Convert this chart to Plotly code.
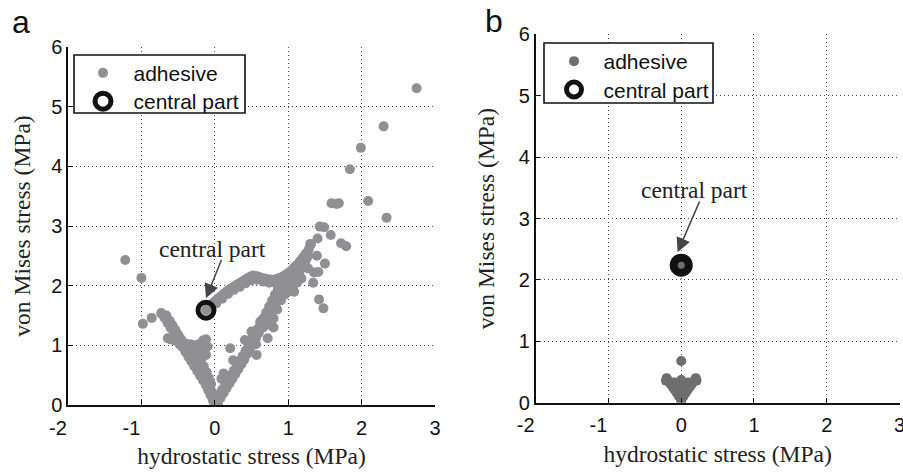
import plotly.graph_objects as go

W, H = 903, 473


def px_x(p):
    return p / W


def px_y(p):
    return 1 - p / H


# ---------------- Panel a data (hydrostatic vs von Mises stress, MPa) ----------------
out_a_x = [2.75, 2.30, 1.99, 1.84, 2.09, 2.34, 1.59, 1.69, 1.66, 1.43, 1.49, 1.58, 1.72, 1.79,
           1.40, 1.30, 1.39, 1.50, 1.34, 1.42, 1.48, -1.22, -1.00, -0.98, -0.86, -0.73, -0.64]
out_a_y = [5.31, 4.67, 4.31, 3.95, 3.42, 3.14, 3.38, 3.38, 3.37, 2.99, 2.98, 2.85, 2.71, 2.66,
           2.79, 2.70, 2.50, 2.37, 2.05, 1.77, 1.62, 2.43, 2.13, 1.36, 1.46, 1.54, 1.12]
up_a_x = [-0.12, -0.08, -0.04, 0.00, 0.04, 0.08, 0.12, 0.16, 0.20, 0.24, 0.28, 0.32, 0.36, 0.40,
          0.44, 0.48, 0.52, 0.56, 0.60, 0.64, 0.68, 0.72, 0.76, 0.80, 0.84, 0.88, 0.92, 0.96,
          1.00, 1.04, 1.08, 1.12, 1.16, 1.20, 1.24, 1.28, 1.31,
          0.02, 0.10, 0.18, 0.26, 0.34, 0.42, 0.50, 0.58, 0.66, 0.74, 0.82, 0.90, 0.98, 1.06,
          1.14, 1.22, 1.27]
up_a_y = [1.59, 1.64, 1.69, 1.74, 1.78, 1.82, 1.86, 1.90, 1.94, 1.97, 2.00, 2.03, 2.06, 2.09,
          2.12, 2.15, 2.17, 2.16, 2.15, 2.13, 2.12, 2.11, 2.10, 2.10, 2.11, 2.13, 2.15, 2.18,
          2.21, 2.25, 2.30, 2.35, 2.41, 2.47, 2.54, 2.61, 2.69,
          1.70, 1.78, 1.86, 1.93, 1.98, 2.04, 2.09, 2.10, 2.07, 2.05, 2.05, 2.07, 2.10, 2.18,
          2.28, 2.40, 2.50]
ra_a_x = [0.04, 0.08, 0.12, 0.16, 0.20, 0.24, 0.28, 0.32, 0.36, 0.40, 0.44, 0.48, 0.52, 0.56,
          0.60, 0.64, 0.68, 0.72, 0.76, 0.80, 0.84, 0.88, 0.92, 0.96,
          0.02, 0.06, 0.10, 0.14, 0.18, 0.22, 0.26, 0.30, 0.34, 0.38, 0.42, 0.46, 0.50, 0.54,
          0.58, 0.62, 0.66, 0.70, 0.74, 0.78, 0.82, 0.86,
          0.12, 0.09, 0.21, 0.25, 0.41, 0.50, 0.62, 0.57, 0.72, 0.66, 0.74, 0.80, 0.85, 0.90,
          0.95, 1.02, 1.05, 1.10, 1.15, 1.20, 1.25, 1.12, 1.08, 0.80, 0.56, 0.98, 1.35, 1.27,
          1.23, 0.89, 0.84, 0.79, 1.41, 1.18, 1.06, 0.94, 1.00]
ra_a_y = [0.04, 0.12, 0.20, 0.28, 0.36, 0.44, 0.52, 0.60, 0.68, 0.76, 0.85, 0.94, 1.03, 1.12,
          1.21, 1.30, 1.39, 1.48, 1.58, 1.68, 1.78, 1.88, 1.97, 2.04,
          0.10, 0.18, 0.26, 0.34, 0.42, 0.50, 0.58, 0.66, 0.74, 0.82, 0.91, 1.00, 1.09, 1.18,
          1.27, 1.36, 1.45, 1.55, 1.65, 1.75, 1.85, 1.95,
          0.53, 0.44, 0.95, 0.75, 1.09, 1.23, 1.40, 0.84, 1.12, 1.30, 1.35, 1.45, 1.60, 1.75,
          1.85, 1.95, 2.05, 2.15, 2.20, 2.30, 2.45, 2.05, 1.90, 1.30, 1.02, 1.88, 2.22, 2.29,
          2.38, 2.04, 1.81, 1.65, 2.23, 2.12, 2.00, 1.98, 2.08]
la_a_x = [-0.72, -0.68, -0.64, -0.60, -0.56, -0.52, -0.48, -0.44, -0.40, -0.36, -0.32, -0.28,
          -0.24, -0.20, -0.16, -0.12, -0.09, -0.06, -0.03, 0.00, 0.03,
          -0.66, -0.62, -0.58, -0.54, -0.50, -0.46, -0.42, -0.38, -0.34, -0.30, -0.26, -0.22,
          -0.18, -0.14, -0.10, -0.07, -0.04, -0.01,
          -0.61, -0.57, -0.53, -0.49, -0.45, -0.41, -0.37, -0.33, -0.29, -0.25, -0.21, -0.17,
          -0.13, -0.09,
          -0.60, -0.55, -0.48, -0.40, -0.34, -0.28, -0.22, -0.16, -0.12, -0.10, -0.14, -0.20,
          -0.26, -0.30, -0.18, -0.12, -0.15, -0.11, -0.08, -0.05, 0.01, 0.04, -0.02]
la_a_y = [1.52, 1.45, 1.37, 1.29, 1.21, 1.13, 1.05, 0.97, 0.89, 0.81, 0.73, 0.65,
          0.57, 0.49, 0.41, 0.33, 0.25, 0.17, 0.10, 0.04, 0.02,
          1.50, 1.42, 1.34, 1.26, 1.18, 1.10, 1.02, 0.94, 0.86, 0.78, 0.70, 0.62,
          0.54, 0.46, 0.38, 0.30, 0.22, 0.14,
          1.40, 1.31, 1.23, 1.15, 1.07, 0.99, 0.91, 0.83, 0.75, 0.67, 0.59, 0.51,
          0.43, 0.35,
          1.10, 1.08, 1.02, 1.03, 1.02, 1.00, 1.02, 1.08, 1.10, 0.98, 0.92, 0.88,
          0.85, 0.92, 0.78, 0.84, 0.65, 0.55, 0.45, 0.35, 0.01, 0.00, 0.06]
central_a_x = [-0.12]
central_a_y = [1.59]

# ---------------- Panel b data ----------------
adh_b_x = [-0.20, -0.18, -0.15, -0.12, -0.09, -0.06, -0.03, 0.00, 0.03, 0.06, 0.09, 0.12, 0.15,
           0.18, 0.20, 0.00, 0.00, 0.00, -0.05, 0.05, -0.10, 0.10, 0.00, 0.00, 0.00, -0.21, 0.21]
adh_b_y = [0.40, 0.36, 0.31, 0.26, 0.21, 0.16, 0.10, 0.03, 0.10, 0.16, 0.21, 0.26, 0.31,
           0.36, 0.40, 0.30, 0.20, 0.12, 0.28, 0.28, 0.33, 0.33, 0.37, 0.68, 2.24, 0.36, 0.36]
central_b_x = [0.00]
central_b_y = [2.24]

x_ticks = [-2, -1, 0, 1, 2, 3]
# MATLAB-style labels: the digit sits on the tick and the minus sign hangs to the left
x_tick_labels = ["-2\u2003", "-1\u2003", "0", "1", "2", "3"]
y_ticks = [0, 1, 2, 3, 4, 5, 6]
y_tick_labels = ["0", "1", "2", "3", "4", "5", "6"]

GRAY_A = "#909094"
GRAY_B = "#6e6e6e"
INK = "#111111"
SANS = "Liberation Sans, Arial, sans-serif"
SERIF = "Liberation Serif, Times New Roman, serif"

adh_a_x_all = out_a_x + up_a_x + ra_a_x + la_a_x
adh_a_y_all = out_a_y + up_a_y + ra_a_y + la_a_y

fig = go.Figure()
fig.add_trace(go.Scatter(x=adh_a_x_all, y=adh_a_y_all, mode="markers", name="adhesive",
                         marker=dict(size=10, color=GRAY_A, line=dict(width=0)),
                         xaxis="x", yaxis="y", legend="legend"))
fig.add_trace(go.Scatter(x=central_a_x, y=central_a_y, mode="markers", name="central part",
                         marker=dict(symbol="circle-open", size=16, color=INK,
                                     line=dict(width=5, color=INK)),
                         xaxis="x", yaxis="y", legend="legend3"))
fig.add_trace(go.Scatter(x=adh_b_x, y=adh_b_y, mode="markers", name="adhesive",
                         marker=dict(size=10, color=GRAY_B, line=dict(width=0)),
                         xaxis="x2", yaxis="y2", legend="legend2"))
fig.add_trace(go.Scatter(x=central_b_x, y=central_b_y, mode="markers", name="central part",
                         marker=dict(symbol="circle-open", size=15, color=INK,
                                     line=dict(width=8, color=INK)),
                         xaxis="x2", yaxis="y2", legend="legend4"))

grid_common = dict(showgrid=True, gridcolor="#444444", griddash="1px,3px", gridwidth=1,
                   showline=True, linecolor=INK, linewidth=1.5,
                   ticks="inside", ticklen=5, tickcolor=INK,
                   tickfont=dict(family=SANS, size=20, color=INK),
                   zeroline=False, automargin=False, fixedrange=True)
xaxis_common = dict(range=[-2, 3], tickvals=x_ticks, ticktext=x_tick_labels,
                    ticklabelstandoff=4, ticklabeloverflow="allow", **grid_common)
yaxis_common = dict(range=[0, 6], tickvals=y_ticks, ticktext=y_tick_labels, **grid_common)


def xtitle():
    return dict(text="hydrostatic stress (MPa)",
                font=dict(family=SERIF, size=23.5, color="#222222"), standoff=10)


def ytitle(s):
    return dict(text="von Mises stress (MPa)",
                font=dict(family=SERIF, size=23.5, color="#222222"), standoff=s)


def legend_at(x_px, y_px, iw):
    return dict(x=px_x(x_px), y=px_y(y_px), xanchor="left", yanchor="top",
                bgcolor="rgba(0,0,0,0)", borderwidth=0,
                font=dict(family=SANS, size=21, color=INK), itemwidth=iw,
                itemclick=False, itemdoubleclick=False)


# legend frames (pixel boxes)
leg_boxes = [(74, 55, 245, 113), (544, 43, 713, 103)]
shapes = [dict(type="rect", xref="paper", yref="paper", layer="above",
               x0=px_x(x0), x1=px_x(x1), y0=px_y(y1), y1=px_y(y0),
               line=dict(color=INK, width=1.6), fillcolor="white")
          for (x0, y0, x1, y1) in leg_boxes]

arrow_style = dict(text="", showarrow=True, arrowhead=2, arrowsize=1.9, arrowwidth=1.5,
                   arrowcolor="#454545")
label_font = dict(family=SERIF, size=23.5, color="#222222")

fig.update_layout(
    width=W, height=H, autosize=False,
    margin=dict(l=0, r=0, t=0, b=0, pad=0),
    paper_bgcolor="white", plot_bgcolor="white",
    showlegend=True,
    xaxis=dict(domain=[px_x(68), px_x(435)], anchor="y", title=xtitle(), **xaxis_common),
    yaxis=dict(domain=[px_y(405), px_y(47)], anchor="x", title=ytitle(14), **yaxis_common),
    xaxis2=dict(domain=[px_x(535.7), px_x(899.5)], anchor="y2", title=xtitle(), **xaxis_common),
    yaxis2=dict(domain=[px_y(402.7), px_y(34.3)], anchor="x2", title=ytitle(18), **yaxis_common),
    legend=legend_at(72.5, 52.7, 51),
    legend3=legend_at(72.5, 81, 51),
    legend2=legend_at(544.5, 41, 49),
    legend4=legend_at(544.5, 69.3, 49),
    shapes=shapes,
    annotations=[
        dict(x=-0.12, y=1.79, ax=0.10, ay=2.46, xref="x", yref="y", axref="x", ayref="y",
             **arrow_style),
        dict(x=-0.025, y=2.61, xref="x", yref="y", text="central part", showarrow=False,
             font=label_font),
        dict(x=-0.05, y=2.45, ax=0.26, ay=3.30, xref="x2", yref="y2", axref="x2", ayref="y2",
             **arrow_style),
        dict(x=0.18, y=3.46, xref="x2", yref="y2", text="central part", showarrow=False,
             font=label_font),
        dict(x=px_x(10), y=px_y(22), xref="paper", yref="paper", xanchor="left",
             yanchor="middle", text="a", showarrow=False,
             font=dict(family=SANS, size=32, color=INK)),
        dict(x=px_x(483), y=px_y(21), xref="paper", yref="paper", xanchor="left",
             yanchor="middle", text="b", showarrow=False,
             font=dict(family=SANS, size=32, color=INK)),
    ],
)

# remove the browser's default 8px body margin so the figure fills the 903x473 window
fig.write_html("out.html", config={"displayModeBar": False},
               post_script="document.body.style.margin='0px';")
